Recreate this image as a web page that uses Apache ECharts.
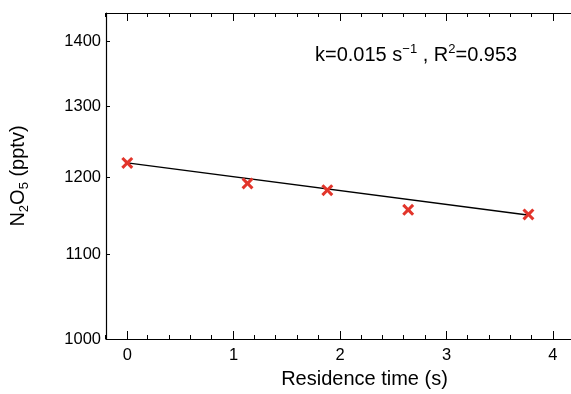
<!DOCTYPE html>
<html>
<head>
<meta charset="utf-8">
<script src="https://cdn.jsdelivr.net/npm/echarts@6/dist/echarts.min.js"></script>
<style>
html, body { margin: 0; padding: 0; background: #fff; }
#chart { width: 571px; height: 394px; }
</style>
</head>
<body>
<div id="chart"></div>
<script>
// measured points (residence time in s, N2O5 in pptv)
var residenceTime = [0, 1.13, 1.88, 2.64, 3.77];
var n2o5 = [1220, 1192, 1183, 1157, 1151];

// fitted line end points
var fitTime = [0, 3.78];
var fitN2o5 = [1220, 1150];

// tick labels
var xMajorTicks = [0, 1, 2, 3, 4];
var xMinorTicks = [-0.2, 0.2, 0.4, 0.6, 0.8, 1.2, 1.4, 1.6, 1.8, 2.2, 2.4, 2.6, 2.8, 3.2, 3.4, 3.6, 3.8];
var yTicks = [1000, 1100, 1200, 1300, 1400];

var fontFam = '"Liberation Sans", Arial, Helvetica, sans-serif';
// the plot box is cut by the right edge of the picture, so the visible axis stops near 4.17
var xMin = -0.2, xMax = 4.17;
var gridBox = {left: 105, top: 13, right: 0, bottom: 55};

function makeXAxis(grid, pos, ticks, len, showLine, showLabel) {
    return {
        type: 'value',
        gridIndex: grid,
        position: pos,
        min: xMin,
        max: xMax,
        splitLine: {show: false},
        axisLine: {show: showLine, onZero: false, lineStyle: {color: '#000', width: 1.2}},
        axisTick: {show: true, inside: true, length: len, customValues: ticks,
            lineStyle: {color: '#000', width: 1}},
        axisLabel: {show: showLabel, customValues: xMajorTicks, margin: 8,
            color: '#000', fontSize: 16.5, fontFamily: fontFam},
        name: showLabel ? 'Residence time (s)' : '',
        nameLocation: 'middle',
        nameGap: 30,
        // centre of the full (uncut) box lies further right
        nameTextStyle: {color: '#000', fontSize: 20, fontFamily: fontFam, padding: [0, 0, 0, 52]}
    };
}

var scatterData = [];
for (var i = 0; i < residenceTime.length; i++) {
    scatterData.push([residenceTime[i], n2o5[i]]);
}
var fitData = [];
for (var j = 0; j < fitTime.length; j++) {
    fitData.push([fitTime[j], fitN2o5[j]]);
}

var option = {
    backgroundColor: '#fff',
    animation: false,
    grid: [
        {left: gridBox.left, top: gridBox.top, right: gridBox.right, bottom: gridBox.bottom},
        {left: gridBox.left, top: gridBox.top, right: gridBox.right, bottom: gridBox.bottom}
    ],
    xAxis: [
        makeXAxis(0, 'bottom', xMajorTicks, 8, true, true),
        makeXAxis(0, 'top', xMajorTicks, 8, true, false),
        makeXAxis(1, 'bottom', xMinorTicks, 4, false, false),
        makeXAxis(1, 'top', xMinorTicks, 4, false, false)
    ],
    yAxis: [
        {
            type: 'log',
            logBase: 10,
            gridIndex: 0,
            min: 1000,
            max: 1445,
            splitLine: {show: false},
            axisLine: {show: true, onZero: false, lineStyle: {color: '#000', width: 1.2}},
            axisTick: {show: true, inside: true, length: 4, customValues: yTicks,
                lineStyle: {color: '#000', width: 1}},
            axisLabel: {customValues: yTicks, margin: 5, color: '#000',
                fontSize: 16.5, fontFamily: fontFam,
                formatter: function (v) { return String(Math.round(v)); }},
            name: '{n|N}{s|2}{n|O}{s|5}{n| (pptv)}',
            nameLocation: 'middle',
            nameGap: 78,
            nameTextStyle: {
                color: '#000',
                fontFamily: fontFam,
                rich: {
                    n: {fontSize: 20, color: '#000', fontFamily: fontFam, lineHeight: 22, verticalAlign: 'bottom'},
                    s: {fontSize: 13, color: '#000', fontFamily: fontFam, lineHeight: 22, verticalAlign: 'bottom', padding: [0, 0, -3, 0]}
                }
            }
        },
        {
            type: 'value',
            gridIndex: 1,
            show: false
        }
    ],
    graphic: [
        {
            type: 'text',
            left: 315,
            top: 43,
            style: {
                text: '{t|k=0.015 s}{p|\u22121}{t| , R}{p|2}{t|=0.953}',
                rich: {
                    t: {fontSize: 20, fill: '#000', fontFamily: fontFam, lineHeight: 22, verticalAlign: 'bottom'},
                    p: {fontSize: 13, fill: '#000', fontFamily: fontFam, lineHeight: 22, verticalAlign: 'top'}
                }
            }
        }
    ],
    series: [
        {
            type: 'line',
            xAxisIndex: 0,
            yAxisIndex: 0,
            data: fitData,
            showSymbol: false,
            symbol: 'none',
            lineStyle: {color: '#000', width: 1.4},
            z: 2
        },
        {
            type: 'scatter',
            xAxisIndex: 0,
            yAxisIndex: 0,
            data: scatterData,
            symbol: 'path://M0,1.8L1.8,0L5,3.2L8.2,0L10,1.8L6.8,5L10,8.2L8.2,10L5,6.8L1.8,10L0,8.2L3.2,5Z',
            symbolSize: 12,
            itemStyle: {color: '#e2352b', opacity: 1},
            z: 3
        }
    ]
};

var chart = echarts.init(document.getElementById('chart'));
chart.setOption(option);
</script>
</body>
</html>
